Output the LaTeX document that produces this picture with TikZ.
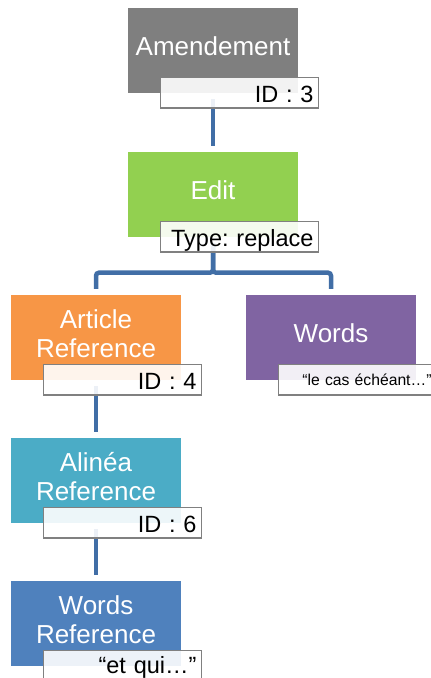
\documentclass[tikz,border=0pt]{standalone}
\usepackage{fontspec}
\setmainfont{Liberation Sans}
\usepackage{xcolor}
\usetikzlibrary{calc}

\definecolor{amdgray}{HTML}{7F7F7F}
\definecolor{editgreen}{HTML}{92D050}
\definecolor{artorange}{HTML}{F79646}
\definecolor{wordspurple}{HTML}{8064A2}
\definecolor{alineateal}{HTML}{4BACC6}
\definecolor{wrefblue}{HTML}{4F81BD}
\definecolor{linkblue}{HTML}{416EA6}
\definecolor{tagborder}{HTML}{808080}

\begin{document}
\begin{tikzpicture}[x=1pt, y=-1pt,
    box/.style={minimum width=170pt, minimum height=85pt, inner sep=0pt,
        text=white, align=center, text depth=8pt,
        font=\fontsize{26}{29}\selectfont},
    tag/.style={draw=tagborder, line width=1.5pt, fill=white, fill opacity=0.9,
        text opacity=1, anchor=north west, inner xsep=5pt, inner ysep=0pt,
        text width=148pt, align=right, text height=25pt, text depth=5.5pt,
        font=\fontsize{23.5}{26}\selectfont\frenchspacing},
    link/.style={draw=linkblue, line width=4.5pt, shorten <=6pt, shorten >=6pt}]
    \useasboundingbox (0,0) rectangle (431,678);

    % Boxes
    \node[box, fill=amdgray] (amd) at (213,50.5) {Amendement};
    \node[box, fill=editgreen] (edit) at (213,194.5) {Edit};
    \node[box, fill=artorange] (art) at (96,337.5) {Article\\Reference};
    \node[box, fill=wordspurple] (words) at (331,337.5) {Words};
    \node[box, fill=alineateal] (alinea) at (96,480.5) {Alinéa\\Reference};
    \node[box, fill=wrefblue] (wref) at (96,623.5) {Words\\Reference};

    % Connectors
    \draw[link] (amd.south) -- (edit.north);
    \draw[link, rounded corners=3pt] (edit.south) -- ++(0,35.5) -| (art.north);
    \draw[link, rounded corners=3pt] (edit.south) -- ++(0,35.5) -| (words.north);
    \draw[link] (art.south) -- (alinea.north);
    \draw[link] (alinea.south) -- (wref.north);

    % Attribute tags
    \node[tag] (amdid) at ($(amd.south west)+(32,-16.5)$) {ID : 3};
    \node[tag] (edittype) at ($(edit.south west)+(32,-16.5)$) {Type: replace};
    \node[tag] (artid) at ($(art.south west)+(32,-16.5)$) {ID : 4};
    \node[tag, text height=21.5pt, text depth=9pt,
        font=\fontsize{15.7}{18}\selectfont] (wordstext)
        at ($(words.south west)+(32,-16.5)$) {“le cas échéant…”};
    \node[tag] (alineaid) at ($(alinea.south west)+(32,-16.5)$) {ID : 6};
    \node[tag, text height=23.5pt, text depth=7pt] (wreftext)
        at ($(wref.south west)+(32,-16.5)$) {“et qui…”};
\end{tikzpicture}
\end{document}
